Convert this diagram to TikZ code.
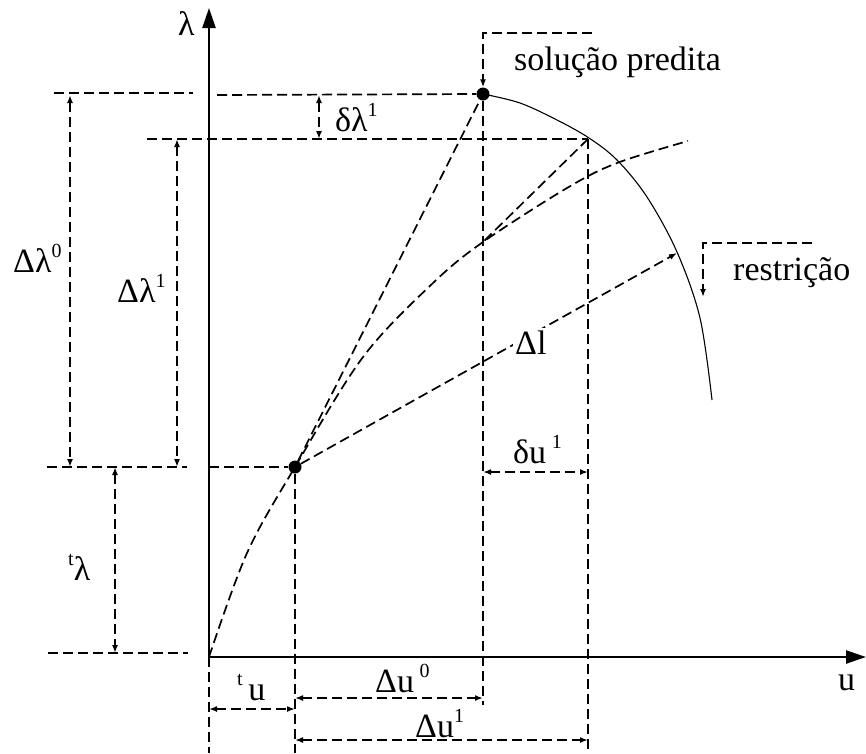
\documentclass[tikz,border=0pt]{standalone}
\usepackage{fontspec}
\setmainfont{Liberation Serif}
\usetikzlibrary{arrows.meta}
\newcommand\spr[1]{\raisebox{0.42em}{\fontsize{20}{20}\selectfont #1}}
\begin{document}
\begin{tikzpicture}[x=1pt,y=-1pt,
  dl/.style={line width=1.7pt,dash pattern=on 10pt off 5pt},
  dimarrow/.style={dl,{Latex[length=8pt,width=6pt]}-{Latex[length=8pt,width=6pt]}},
  lead/.style={dl,-{Latex[length=8pt,width=6pt]}},
  axis/.style={line width=2.4pt,-{Triangle[length=20pt,width=13pt]}},
  lbl/.style={font=\fontsize{34}{40}\selectfont,inner sep=0pt,anchor=base west},
  dot/.style={circle,fill,inner sep=0pt,minimum size=13pt}]
\useasboundingbox (0,0) rectangle (866,753);

% key points
\coordinate (O) at (209,657);
\coordinate (Ltop) at (209,8);
\coordinate (Uend) at (866,657);
\coordinate (Ac) at (295,467);
\coordinate (Pc) at (483,94);
\coordinate (C) at (588,139);
\coordinate (K) at (483,242);

% axes
\draw[axis] (O) -- (Ltop);
\draw[axis] (O) -- (Uend);

% equilibrium path
\draw[dl] plot[smooth,tension=0.55] coordinates {(209,657) (247,553) (295,467) (363,357) (433,283) (483,242) (567,188) (617,163) (688,141)};

% constraint arc
\draw[line width=1.1pt] plot[smooth,tension=0.55] coordinates {(483,94) (520,103) (557,120) (589,138) (617,160) (647,197) (677,252) (700,318) (712,400)};

% dots
\node[dot] (A) at (Ac) {};
\node[dot] (P) at (Pc) {};

% tangent and secant
\draw[dl] (A) -- (P);
\draw[dl] (C) -- (K);

% horizontal reference lines
\coordinate (h1a) at (54,93);  \coordinate (h1b) at (193,93);
\coordinate (h1c) at (217,95);
\coordinate (h2a) at (147,139);
\coordinate (h3a) at (47,467); \coordinate (h3b) at (187,467);
\coordinate (h3c) at (209,467);
\coordinate (h4a) at (48,653); \coordinate (h4b) at (188,653);
\draw[dl] (h1a) -- (h1b);
\draw[dl] (h1c) -- (P);
\draw[dl] (h2a) -- (C);
\draw[dl] (h3a) -- (h3b);
\draw[dl] (h3c) -- (A);
\draw[dl] (h4a) -- (h4b);

% vertical reference lines
\coordinate (v0) at (209,753);
\coordinate (vA) at (295,753);
\coordinate (vP) at (483,705);
\coordinate (vC) at (588,753);
\draw[dl] (O) -- (v0);
\draw[dl] (A) -- (vA);
\draw[dl] (P) -- (vP);
\draw[dl] (C) -- (vC);

% leaders
\coordinate (sp1) at (483,33); \coordinate (sp2) at (592,33);
\draw[lead] (sp2) -- (sp1) -- (P.north);
\coordinate (rs1) at (812,243); \coordinate (rs2) at (703,243); \coordinate (rs3) at (703,297);
\draw[lead] (rs1) -- (rs2) -- (rs3);

% dimension arrows
\coordinate (d1a) at (70,95);   \coordinate (d1b) at (70,467);
\coordinate (d2a) at (177,139); \coordinate (d2b) at (177,467);
\coordinate (d3a) at (115,467); \coordinate (d3b) at (115,653);
\coordinate (d4a) at (319,95);  \coordinate (d4b) at (319,139);
\coordinate (d5a) at (483,472); \coordinate (d5b) at (588,472);
\coordinate (d6a) at (209,709); \coordinate (d6b) at (295,709);
\coordinate (d7a) at (295,698); \coordinate (d7b) at (483,698);
\coordinate (d8a) at (295,740); \coordinate (d8b) at (588,740);
\draw[dimarrow] (d1a) -- (d1b);
\draw[dimarrow] (d2a) -- (d2b);
\draw[dimarrow] (d3a) -- (d3b);
\draw[dimarrow] (d4a) -- (d4b);
\draw[dimarrow] (d5a) -- (d5b);
\draw[dimarrow] (d6a) -- (d6b);
\draw[dimarrow] (d7a) -- (d7b);
\draw[dimarrow] (d8a) -- (d8b);

% arc-length arrow
\coordinate (Dl) at (677,253);
\draw[lead] (A) -- (Dl);
\node[lbl,fill=white,inner sep=2pt] (dllab) at (513,354) {Δl};

% labels
\node[lbl] (lamlab) at (178,35) {λ};
\node[lbl] (ulab) at (838,690) {u};
\node[lbl] (splab) at (514,70) {solução predita};
\node[lbl] (rslab) at (733,280) {restrição};
\node[lbl] (dl0lab) at (13,272) {Δλ\spr{0}};
\node[lbl] (dl1lab) at (117,302) {Δλ\spr{1}};
\node[lbl] (tllab) at (68,580) {\spr{t}λ};
\node[lbl] (ddllab) at (335,131) {δλ\spr{1}};
\node[lbl] (dulab) at (513,463) {δu\,\spr{1}};
\node[lbl] (tulab) at (237,700) {\spr{t}\,u};
\node[lbl] (du0lab) at (375,692) {Δu\,\spr{0}};
\node[lbl] (du1lab) at (415,737) {Δu\spr{1}};
\end{tikzpicture}
\end{document}
